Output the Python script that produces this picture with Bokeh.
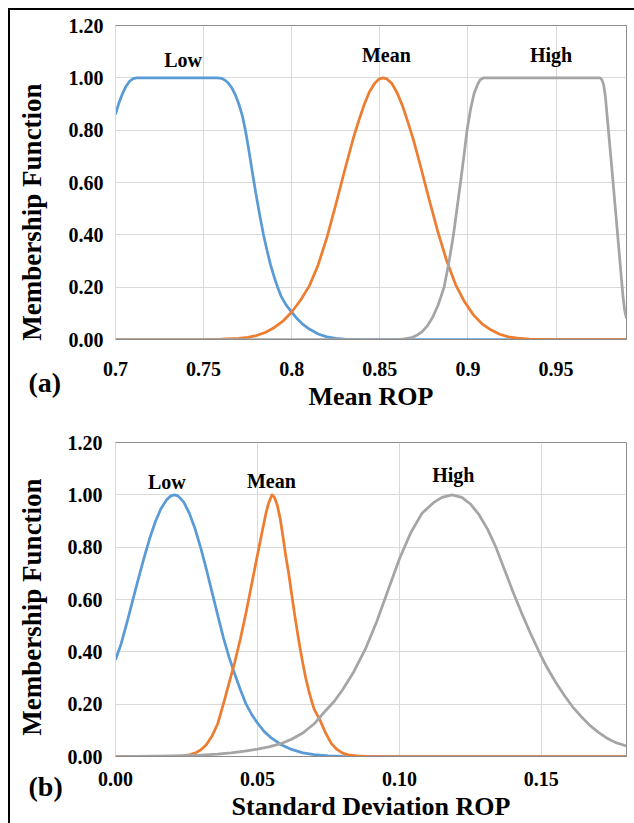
import math
from bokeh.plotting import figure
from bokeh.models import Range1d, FixedTicker, Label
from bokeh.layouts import column
from bokeh.core.properties import value
from bokeh.embed import file_html
from bokeh.resources import INLINE

FONT = "Liberation Serif"
BLUE, ORANGE, GRAY = "#5B9BD5", "#ED7D31", "#A5A5A5"

# ---------------- Panel (a): Mean ROP ----------------
a_low_x = [0.700, 0.702, 0.704, 0.706, 0.708, 0.710, 0.712, 0.758, 0.760, 0.762, 0.764, 0.766,
           0.768, 0.770, 0.772, 0.774, 0.776, 0.778, 0.780, 0.782, 0.784, 0.786, 0.788, 0.790,
           0.792, 0.794, 0.797, 0.800, 0.803, 0.806, 0.810, 0.815, 0.820, 0.825, 0.830, 0.840,
           0.990]
a_low_y = [0.86, 0.905, 0.94, 0.968, 0.987, 0.997, 1.0, 1.0, 0.998, 0.992, 0.98, 0.962,
           0.935, 0.90, 0.855, 0.79, 0.71, 0.625, 0.545, 0.47, 0.40, 0.34, 0.285, 0.24,
           0.20, 0.165, 0.13, 0.105, 0.08, 0.06, 0.04, 0.021, 0.01, 0.004, 0.0015, 0.0,
           0.0]

a_mean_x = [0.700, 0.750, 0.760, 0.770, 0.775, 0.780, 0.785, 0.790, 0.795, 0.800, 0.805, 0.810,
            0.815, 0.820, 0.825, 0.830, 0.835, 0.838, 0.841, 0.844, 0.847, 0.8495, 0.8518, 0.854,
            0.857, 0.860, 0.863, 0.866, 0.869, 0.873, 0.878, 0.883, 0.888, 0.893, 0.898, 0.903,
            0.908, 0.913, 0.918, 0.923, 0.928, 0.935, 0.950, 0.990]
a_mean_y = [0.0, 0.0, 0.001, 0.004, 0.008, 0.015, 0.027, 0.045, 0.07, 0.105, 0.15, 0.205,
            0.285, 0.39, 0.515, 0.645, 0.77, 0.835, 0.895, 0.945, 0.978, 0.995, 1.0, 0.996,
            0.977, 0.94, 0.891, 0.83, 0.765, 0.665, 0.535, 0.41, 0.30, 0.21, 0.145, 0.095,
            0.06, 0.037, 0.02, 0.01, 0.005, 0.001, 0.0, 0.0]

a_high_x = [0.700, 0.860, 0.864, 0.868, 0.871, 0.874, 0.877, 0.880, 0.883, 0.8865, 0.8896,
            0.8918, 0.8938, 0.8958, 0.8977, 0.8995, 0.9015, 0.9035, 0.9055, 0.907, 0.909,
            0.975, 0.976, 0.977, 0.978, 0.980, 0.982, 0.984, 0.986, 0.988, 0.989, 0.990]
a_high_y = [0.0, 0.0, 0.002, 0.007, 0.016, 0.03, 0.052, 0.085, 0.13, 0.20, 0.31,
            0.40, 0.50, 0.60, 0.70, 0.80, 0.88, 0.94, 0.975, 0.993, 1.0,
            1.0, 0.993, 0.975, 0.93, 0.78, 0.63, 0.475, 0.32, 0.165, 0.11, 0.08]

a_xticks = [0.7, 0.75, 0.8, 0.85, 0.9, 0.95]
a_xtick_labels = ["0.7", "0.75", "0.8", "0.85", "0.9", "0.95"]
a_names = ["Low", "Mean", "High"]
a_name_x = [0.7384, 0.8537, 0.9472]
a_name_y = [1.070, 1.086, 1.088]

# ---------------- Panel (b): Standard Deviation ROP ----------------
b_low_x = [0.000, 0.002, 0.004, 0.006, 0.008, 0.010, 0.012, 0.014, 0.016, 0.018, 0.0195,
           0.0208, 0.022, 0.024, 0.026, 0.028, 0.030, 0.032, 0.034, 0.036, 0.038, 0.040,
           0.042, 0.044, 0.046, 0.048, 0.050, 0.0524, 0.055, 0.0582, 0.062, 0.066, 0.070,
           0.075, 0.080, 0.090, 0.180]
b_low_y = [0.37, 0.431, 0.511, 0.594, 0.677, 0.757, 0.832, 0.896, 0.947, 0.981, 0.996,
           1.0, 0.996, 0.973, 0.93, 0.871, 0.798, 0.716, 0.628, 0.54, 0.454, 0.38,
           0.315, 0.255, 0.20, 0.16, 0.128, 0.095, 0.07, 0.046, 0.027, 0.014, 0.007,
           0.002, 0.0005, 0.0, 0.0]

b_mean_x = [0.000, 0.022, 0.024, 0.026, 0.028, 0.030, 0.032, 0.034, 0.036, 0.038, 0.040,
            0.042, 0.044, 0.046, 0.048, 0.050, 0.0515, 0.053, 0.054, 0.0551, 0.056, 0.057,
            0.058, 0.059, 0.060, 0.061, 0.062, 0.063, 0.064, 0.065, 0.066, 0.067, 0.068,
            0.069, 0.070, 0.072, 0.074, 0.076, 0.078, 0.080, 0.082, 0.085, 0.090, 0.180]
b_mean_y = [0.0, 0.0, 0.002, 0.006, 0.013, 0.025, 0.045, 0.078, 0.125, 0.20, 0.28,
            0.36, 0.45, 0.55, 0.66, 0.77, 0.85, 0.93, 0.97, 1.0, 0.99, 0.96,
            0.91, 0.84, 0.765, 0.70, 0.625, 0.55, 0.48, 0.415, 0.355, 0.30, 0.255,
            0.215, 0.18, 0.14, 0.09, 0.05, 0.027, 0.013, 0.006, 0.002, 0.0, 0.0]

b_high_x = [0.000, 0.020, 0.030, 0.036, 0.0407, 0.045, 0.050, 0.054, 0.058, 0.062, 0.066,
            0.070, 0.072, 0.074, 0.077, 0.080, 0.084, 0.088, 0.092, 0.096, 0.100, 0.104,
            0.108, 0.112, 0.115, 0.1185, 0.122, 0.125, 0.128, 0.131, 0.134, 0.137, 0.140,
            0.143, 0.146, 0.149, 0.152, 0.155, 0.158, 0.161, 0.164, 0.167, 0.170, 0.173,
            0.176, 0.180]
b_high_y = [0.0, 0.002, 0.005, 0.009, 0.014, 0.02, 0.028, 0.037, 0.048, 0.066, 0.09,
            0.125, 0.15, 0.175, 0.21, 0.255, 0.325, 0.41, 0.515, 0.635, 0.755, 0.855,
            0.93, 0.97, 0.99, 1.0, 0.99, 0.965, 0.925, 0.87, 0.80, 0.715, 0.63,
            0.55, 0.475, 0.405, 0.34, 0.285, 0.235, 0.19, 0.153, 0.12, 0.093, 0.071,
            0.054, 0.04]

b_xticks = [0.0, 0.05, 0.10, 0.15]
b_xtick_labels = ["0.00", "0.05", "0.10", "0.15"]
b_names = ["Low", "Mean", "High"]
b_name_x = [0.0181, 0.0549, 0.119]
b_name_y = [1.048, 1.054, 1.074]

y_ticks = [0.0, 0.2, 0.4, 0.6, 0.8, 1.0, 1.2]
y_tick_labels = ["0.00", "0.20", "0.40", "0.60", "0.80", "1.00", "1.20"]
y_title = "Membership Function"


def make_panel(series, x_start, x_end, xticks, xlabels, xtitle, tag,
               names, name_x, name_y, width, height, ml, mr, mt, mb,
               xstand, ystand, ytitle_pos, tag_pos, xtitle_stand):
    p = figure(width=width, height=height, output_backend="svg", toolbar_location=None,
               x_range=Range1d(x_start, x_end), y_range=Range1d(0, 1.2))
    p.min_border_left = ml
    p.min_border_right = mr
    p.min_border_top = mt
    p.min_border_bottom = mb
    p.background_fill_color = "white"
    p.border_fill_color = None
    p.outline_line_color = "#8c8c8c"
    p.outline_line_width = 1

    for ax, ticks, labels in ((p.xaxis[0], xticks, xlabels), (p.yaxis[0], y_ticks, y_tick_labels)):
        ax.ticker = FixedTicker(ticks=ticks)
        ax.major_label_overrides = {t: l for t, l in zip(ticks, labels)}
        ax.major_tick_line_color = None
        ax.minor_tick_line_color = None
        ax.major_label_text_font = FONT
        ax.major_label_text_font_style = "bold"
        ax.major_label_text_font_size = "20px"
        ax.major_label_text_color = "black"
    p.xaxis.axis_line_color = "#8c8c8c"
    p.yaxis.axis_line_color = "#d9d9d9"
    p.xaxis.major_label_standoff = xstand
    p.yaxis.major_label_standoff = ystand
    p.xaxis.axis_label = xtitle
    p.xaxis.axis_label_text_font = FONT
    p.xaxis.axis_label_text_font_style = "bold"
    p.xaxis.axis_label_text_font_size = "26px"
    p.xaxis.axis_label_text_color = "black"
    p.xaxis.axis_label_standoff = xtitle_stand

    p.xgrid.ticker = FixedTicker(ticks=xticks)
    p.ygrid.ticker = FixedTicker(ticks=y_ticks)
    p.xgrid.grid_line_color = "#d9d9d9"
    p.ygrid.grid_line_color = "#d9d9d9"

    for (xs, ys), col in zip(series, (BLUE, ORANGE, GRAY)):
        p.line(xs, ys, line_color=col, line_width=2.75, line_join="round")

    p.text(x=name_x, y=name_y, text=names, text_font=value(FONT), text_font_style="bold",
           text_font_size="20px", text_align="center", text_baseline="middle",
           text_color="black")

    # labels placed in a side panel so they are not clipped to the frame
    p.add_layout(Label(x=ytitle_pos[0], y=ytitle_pos[1], x_units="canvas", y_units="canvas",
                       text=y_title, angle=math.pi / 2, text_align="center",
                       text_baseline="middle", text_font=FONT, text_font_style="bold",
                       text_font_size="27px", text_color="black"), "left")
    p.add_layout(Label(x=tag_pos[0], y=tag_pos[1], x_units="canvas", y_units="canvas",
                       text=tag, text_align="left", text_baseline="middle",
                       text_font=FONT, text_font_style="bold", text_font_size="28px",
                       text_color="black"), "left")
    return p


pa = make_panel([(a_low_x, a_low_y), (a_mean_x, a_mean_y), (a_high_x, a_high_y)],
                0.7, 0.99, a_xticks, a_xtick_labels, "Mean ROP", "(a)",
                a_names, a_name_x, a_name_y, 634, 415, 113, 8, 25, 76,
                16, 6, (31, 211.5), (28, 382), 3)
pb = make_panel([(b_low_x, b_low_y), (b_mean_x, b_mean_y), (b_high_x, b_high_y)],
                0.0, 0.18, b_xticks, b_xtick_labels, "Standard Deviation ROP", "(b)",
                b_names, b_name_x, b_name_y, 634, 408, 114, 7, 27, 66,
                9, 7, (31, 191.5), (28, 371), 3)

frame_bg = ("linear-gradient(#000, #000) 8px 8px / 2px 100% no-repeat, "
            "linear-gradient(#000, #000) 8px 8px / 100% 2px no-repeat, #ffffff")
layout = column(pa, pb, styles={"background": frame_bg})

open("out.html", "w").write(file_html(layout, INLINE))
